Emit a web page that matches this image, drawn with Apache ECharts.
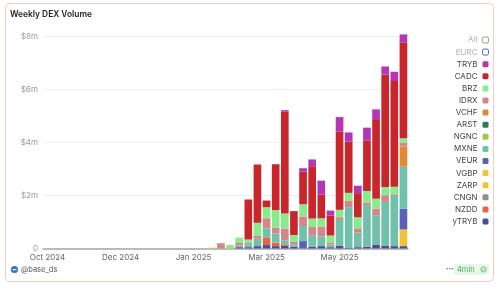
<!DOCTYPE html>
<html>
<head>
<meta charset="utf-8">
<script src="https://cdn.jsdelivr.net/npm/echarts@6/dist/echarts.min.js"></script>
<style>
html,body{margin:0;padding:0;background:#fff;}
#c{width:500px;height:290px;}
</style>
</head>
<body>
<div id="c"></div>
<script>
// Week start dates (category axis)
const weeks = [
 '2024-10-07','2024-10-14','2024-10-21','2024-10-28','2024-11-04','2024-11-11','2024-11-18','2024-11-25',
 '2024-12-02','2024-12-09','2024-12-16','2024-12-23','2024-12-30','2025-01-06','2025-01-13','2025-01-20',
 '2025-01-27','2025-02-03','2025-02-10','2025-02-17','2025-02-24','2025-03-03','2025-03-10','2025-03-17',
 '2025-03-24','2025-03-31','2025-04-07','2025-04-14','2025-04-21','2025-04-28','2025-05-05','2025-05-12',
 '2025-05-19','2025-05-26','2025-06-02','2025-06-09','2025-06-16','2025-06-23','2025-06-30','2025-07-07'
];
// Weekly volume in $ millions, per token
const yTRYB = [0,0,0,0,0,0,0,0,0,0,0,0,0,0,0,0,0,0, 0,0,0,.05,.05,.09,.13,.09,.10,.07,0,.07,.09,.05,.10,.02,.05,.07,.15,.11,.09,.09];
const NZDD  = [0,0,0,0,0,0,0,0,0,0,0,0,0,0,0,0,0,0, 0,0,0,0,0,0,.29,.13,.06,0,0,0,0,0,0,0,0,0,0,0,0,0];
const CNGN  = [0,0,0,0,0,0,0,0,0,0,0,0,0,0,0,0,0,0, 0,0,0,0,0,0,0,0,0,0,0,0,0,0,0,0,0,0,0,0,0,0];
const ZARP  = [0,0,0,0,0,0,0,0,0,0,0,0,0,0,0,0,0,0, 0,0,0,0,0,0,0,0,0,0,0,0,0,0,0,0,0,0,0,0,0,0];
const VGBP  = [0,0,0,0,0,0,0,0,0,0,0,0,0,0,0,0,0,0, .03,0,0,0,0,0,0,0,0,0,0,0,0,0,0,0,0,0,0,0,0,.63];
const VEUR  = [0,0,0,0,0,0,0,0,0,0,0,0,0,0,0,0,0,0, 0,0,0,0,0,0,0,0,0,0,.28,0,0,0,0,0,0,0,0,0,0,.78];
const MXNE  = [0,0,0,0,0,0,0,0,0,0,0,0,0,0,0,0,0,0, 0,0,0,.06,.11,.28,.34,.35,.15,.09,.57,.42,.37,.10,.98,1.54,.55,1.57,1.11,1.65,1.89,1.59];
const NGNC  = [0,0,0,0,0,0,0,0,0,0,0,0,0,0,0,0,0,0, 0,0,0,0,0,0,0,0,0,0,0,0,0,0,0,0,0,0,0,0,0,0];
const ARST  = [0,0,0,0,0,0,0,0,0,0,0,0,0,0,0,0,0,0, 0,0,0,0,0,0,0,0,0,0,0,0,0,0,0,0,0,0,0,0,0,0];
const VCHF  = [0,0,0,0,0,0,0,0,0,0,0,0,0,0,0,0,0,0, 0,0,0,0,0,0,0,0,0,0,0,0,0,0,0,0,0,0,0,0,0,.76];
const IDRX  = [0,0,0,0,0,0,0,0,0,0,0,0,0,0,0,0,0,0, 0,.20,0,.10,.05,.10,.38,.21,.44,.10,.36,.32,.37,.08,.10,.25,.16,.09,.24,.25,.06,.15];
const BRZ   = [0,0,0,0,0,0,0,0,0,0,0,0,0,0,0,0,0,0, 0,0,.13,.20,.13,.50,.42,.67,.57,.25,.46,.32,.31,.26,.28,.29,.42,.44,.38,.31,.29,.16];
const CADC  = [0,0,0,0,0,0,0,0,0,0,0,0,0,0,0,0,0,0, 0,0,0,0,1.51,2.20,.25,1.73,3.84,.90,1.23,1.95,.89,.75,2.95,1.93,.91,1.91,2.97,4.24,3.99,3.61];
const TRYB  = [0,0,0,0,0,0,0,0,0,0,0,0,0,0,0,0,0,0, 0,0,0,0,0,0,0,0,.06,0,.13,.28,.53,.19,.55,.35,.28,.48,.40,.31,.35,.31];
const EURC  = [0,0,0,0,0,0,0,0,0,0,0,0,0,0,0,0,0,0, 0,0,0,0,0,0,0,0,0,0,0,0,0,0,0,0,0,0,0,0,0,0];
const yTicks = ['0','$2m','$4m','$6m','$8m'];
const monthNames = ['Jan','Feb','Mar','Apr','May','Jun','Jul','Aug','Sep','Oct','Nov','Dec'];

const stackSeries = [
  ['yTRYB', yTRYB, '#4a4b9c'],
  ['NZDD', NZDD, '#e2663f'],
  ['CNGN', CNGN, '#8e8e8e'],
  ['ZARP', ZARP, '#f2c230'],
  ['VGBP', VGBP, '#f2c13e'],
  ['VEUR', VEUR, '#5b62b6'],
  ['MXNE', MXNE, '#6fc1a9'],
  ['NGNC', NGNC, '#9dc94c'],
  ['ARST', ARST, '#2f7560'],
  ['VCHF', VCHF, '#e08b33'],
  ['IDRX', IDRX, '#d4868b'],
  ['BRZ', BRZ, '#88eb8c'],
  ['CADC', CADC, '#c9262b'],
  ['TRYB', TRYB, '#b536b4'],
  ['EURC', EURC, '#5566bb']
];
const legendOrder = ['All','EURC','TRYB','CADC','BRZ','IDRX','VCHF','ARST','NGNC','MXNE','VEUR','VGBP','ZARP','CNGN','NZDD','yTRYB'];

const series = stackSeries.map(([name, data, color]) => ({
  name, type: 'bar', stack: 'vol', data, barCategoryGap: '16%',
  itemStyle: { color }, emphasis: { disabled: true }
}));
series.push({ name: 'All', type: 'line', data: [], itemStyle: { color: '#999' } });

const legendData = legendOrder.map(n => {
  if (n === 'All') return { name: n, itemStyle: { color: '#fff', borderColor: '#9a9a9a', borderWidth: 1 }, textStyle: { color: '#b3b3b3' } };
  if (n === 'EURC') return { name: n, itemStyle: { color: '#fff', borderColor: '#5566bb', borderWidth: 1 }, textStyle: { color: '#b3b3b3' } };
  return { name: n };
});

const chart = echarts.init(document.getElementById('c'), null, { renderer: 'canvas' });
chart.setOption({
  animation: false,
  textStyle: { fontFamily: 'Inter, "Noto Sans", sans-serif' },
  title: {
    text: 'Weekly DEX Volume', left: 10, top: 10, padding: 0,
    textStyle: { fontSize: 8.4, fontWeight: 600, color: '#222', fontFamily: 'Inter' }
  },
  grid: { left: 43, right: 92, top: 34.4, bottom: 41.5 },
  legend: {
    orient: 'vertical', right: 11, top: 36, align: 'right',
    icon: 'roundRect', itemWidth: 6, itemHeight: 6, itemGap: 4.1,
    padding: 0, data: legendData,
    textStyle: { fontSize: 8, color: '#444' }
  },
  xAxis: {
    type: 'category', data: weeks,
    axisTick: { show: false },
    axisLine: { lineStyle: { color: '#a8a8a8', width: 1.5 } },
    axisLabel: {
      interval: 7, margin: 5, fontSize: 8, color: '#666',
      formatter: v => monthNames[parseInt(v.slice(5, 7), 10) - 1] + ' ' + v.slice(0, 4)
    }
  },
  yAxis: {
    type: 'value', min: 0, max: 'dataMax', interval: 2,
    axisLabel: {
      fontSize: 8, color: '#999', margin: 5, showMaxLabel: false,
      formatter: v => (v % 2 === 0 ? yTicks[v / 2] : '')
    },
    splitLine: { lineStyle: { color: '#eeeeee' }, showMaxLine: false }
  },
  series,
  graphic: [
    { type: 'rect', shape: { x: 5.5, y: 3.5, width: 488, height: 278, r: 4 }, style: { fill: 'none', stroke: '#f2cbc3', lineWidth: 1 }, silent: true },
    { type: 'circle', shape: { cx: 14.5, cy: 269.5, r: 3.6 }, style: { fill: '#2f6fe0' } },
    { type: 'rect', shape: { x: 12.5, y: 269, width: 4, height: 1.2 }, style: { fill: '#fff' } },
    { type: 'text', x: 21, y: 269.5, style: { text: '@base_ds', fontSize: 7.5, fill: '#555', verticalAlign: 'middle', fontFamily: 'Inter' } },
    { type: 'text', x: 446, y: 269, style: { text: '···', fontSize: 8, fill: '#555', verticalAlign: 'middle', fontWeight: 'bold' } },
    { type: 'rect', shape: { x: 454, y: 264, width: 35, height: 11, r: 2 }, style: { fill: '#e9f6ea' } },
    { type: 'text', x: 457, y: 269.5, style: { text: '4min', fontSize: 7.5, fill: '#4caf50', verticalAlign: 'middle', fontFamily: 'Inter' } },
    { type: 'circle', shape: { cx: 483.5, cy: 269.5, r: 2.6 }, style: { fill: 'none', stroke: '#4caf50', lineWidth: 0.8 } },
    { type: 'polyline', shape: { points: [[482.2, 269.6], [483.2, 270.6], [484.9, 268.6]] }, style: { fill: 'none', stroke: '#4caf50', lineWidth: 0.8 } }
  ]
});
</script>
</body>
</html>
